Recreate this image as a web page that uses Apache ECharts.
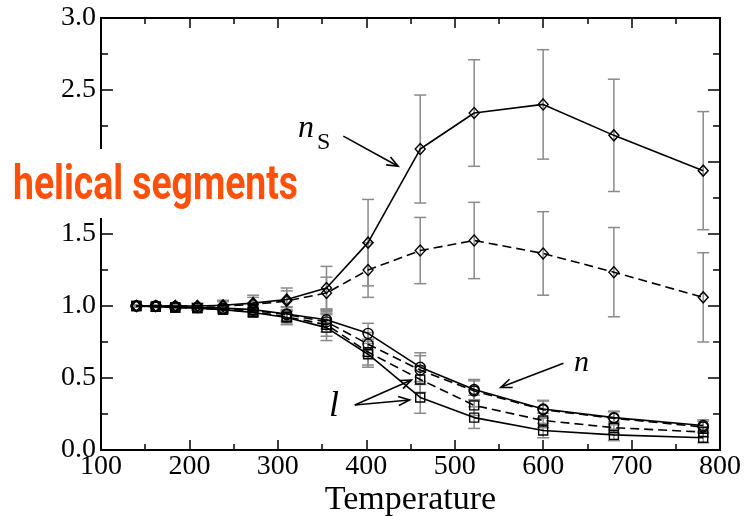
<!DOCTYPE html>
<html>
<head>
<meta charset="utf-8">
<script src="https://cdn.jsdelivr.net/npm/echarts@6/dist/echarts.min.js"></script>
<style>
  html, body { margin: 0; padding: 0; background: #fff; }
  #chart { width: 745px; height: 516px; }
</style>
</head>
<body>
<div id="chart"></div>
<script>
// Simulation temperatures
const temperatures = [140, 162, 184, 209, 238, 272, 310, 355, 402, 461, 522, 600, 680, 781];

// Number of helical segments n_S (solid and dashed runs) with error bars
const nsSolid      = [1.00, 1.00, 1.00, 1.00, 1.005, 1.02, 1.045, 1.125, 1.44, 2.09, 2.34, 2.40, 2.185, 1.94];
const nsSolidErr   = [0.005, 0.005, 0.01, 0.02, 0.035, 0.055, 0.08, 0.15, 0.30, 0.375, 0.37, 0.38, 0.39, 0.41];
const nsDashed     = [1.00, 1.00, 1.00, 1.00, 1.00, 1.01, 1.035, 1.09, 1.25, 1.385, 1.455, 1.365, 1.235, 1.06];
const nsDashedErr  = [0.005, 0.005, 0.01, 0.015, 0.03, 0.05, 0.07, 0.11, 0.19, 0.23, 0.265, 0.29, 0.31, 0.31];

// Helical content n (circles) and helix length l (squares)
const nSolid       = [1.00, 1.00, 0.995, 0.99, 0.985, 0.975, 0.945, 0.905, 0.81, 0.575, 0.42, 0.285, 0.225, 0.17];
const nSolidErr    = [0.005, 0.005, 0.01, 0.015, 0.02, 0.03, 0.05, 0.065, 0.07, 0.10, 0.07, 0.06, 0.045, 0.04];
const nDashed      = [1.00, 1.00, 0.995, 0.99, 0.98, 0.97, 0.94, 0.89, 0.735, 0.555, 0.41, 0.28, 0.22, 0.16];
const nDashedErr   = [0.005, 0.005, 0.01, 0.015, 0.02, 0.03, 0.05, 0.07, 0.08, 0.10, 0.07, 0.06, 0.045, 0.04];
const lDashed      = [1.00, 0.995, 0.99, 0.985, 0.975, 0.96, 0.925, 0.87, 0.68, 0.49, 0.31, 0.205, 0.155, 0.125];
const lDashedErr   = [0.005, 0.005, 0.01, 0.015, 0.02, 0.03, 0.05, 0.08, 0.09, 0.09, 0.07, 0.05, 0.04, 0.035];
const lSolid       = [1.00, 0.995, 0.99, 0.985, 0.975, 0.955, 0.92, 0.85, 0.665, 0.365, 0.225, 0.135, 0.105, 0.085];
const lSolidErr    = [0.005, 0.005, 0.01, 0.015, 0.02, 0.03, 0.05, 0.09, 0.09, 0.11, 0.075, 0.05, 0.04, 0.035];

// Axis ticks
const xTicks = [100, 200, 300, 400, 500, 600, 700, 800];
const yTicks = [0.0, 0.5, 1.0, 1.5, 2.0, 2.5, 3.0];

const SERIF = '"Liberation Serif", "DejaVu Serif", serif';
const ERR_COLOR = '#8a8a8a';

const chart = echarts.init(document.getElementById('chart'), null, { renderer: 'canvas' });

function lineSeries(values, symbol, size, dashed) {
  return {
    type: 'line',
    data: temperatures.map((t, i) => [t, values[i]]),
    symbol: symbol,
    symbolSize: size,
    showAllSymbol: true,
    z: 3,
    lineStyle: { color: '#000', width: 1.6, type: dashed ? [9, 5] : 'solid' },
    itemStyle: { color: 'rgba(255,255,255,0)', borderColor: '#000', borderWidth: 1.4 },
    emphasis: { disabled: true },
    animation: false
  };
}

function errorSeries(values, errs) {
  return {
    type: 'custom',
    silent: true,
    z: 2,
    encode: { x: 0, y: 1 },
    data: temperatures.map((t, i) => [t, values[i], errs[i]]),
    renderItem(params, api) {
      const x = api.value(0), y = api.value(1), e = api.value(2);
      const top = api.coord([x, y + e]);
      const bot = api.coord([x, y - e]);
      const hw = 6;
      const st = { stroke: ERR_COLOR, lineWidth: 1.5 };
      return {
        type: 'group',
        children: [
          { type: 'line', shape: { x1: top[0], y1: top[1], x2: bot[0], y2: bot[1] }, style: st },
          { type: 'line', shape: { x1: top[0] - hw, y1: top[1], x2: top[0] + hw, y2: top[1] }, style: st },
          { type: 'line', shape: { x1: bot[0] - hw, y1: bot[1], x2: bot[0] + hw, y2: bot[1] }, style: st }
        ]
      };
    },
    animation: false
  };
}

const tickStyle = { color: '#000', width: 1.5 };

chart.setOption({
  animation: false,
  backgroundColor: '#fff',
  grid: { left: 101, right: 25, top: 18, bottom: 66, containLabel: false, outerBoundsMode: 'none' },
  xAxis: [
    {
      type: 'value', min: xTicks[0], max: xTicks[xTicks.length - 1], interval: 100,
      name: 'Temperature', nameLocation: 'middle', nameGap: 33, nameMoveOverlap: false,
      nameTextStyle: { fontFamily: SERIF, fontSize: 34, color: '#000', verticalAlign: 'top' },
      axisLine: { show: true, onZero: false, lineStyle: { color: '#000', width: 2 } },
      axisTick: { show: true, inside: true, length: 10, lineStyle: tickStyle },
      minorTick: { show: true, splitNumber: 2, length: 6, lineStyle: tickStyle },
      axisLabel: { fontFamily: SERIF, fontSize: 28, color: '#000', margin: 3 },
      splitLine: { show: false }
    },
    {
      type: 'value', position: 'top', min: xTicks[0], max: xTicks[xTicks.length - 1], interval: 100,
      axisLine: { show: true, onZero: false, lineStyle: { color: '#000', width: 2 } },
      axisTick: { show: true, inside: true, length: 10, lineStyle: tickStyle },
      minorTick: { show: true, splitNumber: 2, length: 6, lineStyle: tickStyle },
      axisLabel: { show: false },
      splitLine: { show: false }
    }
  ],
  yAxis: [
    {
      type: 'value', min: yTicks[0], max: yTicks[yTicks.length - 1], interval: 0.5,
      axisLine: { show: true, onZero: false, lineStyle: { color: '#000', width: 2 } },
      axisTick: { show: true, inside: true, length: 12, lineStyle: tickStyle },
      minorTick: { show: true, splitNumber: 2, length: 7, lineStyle: tickStyle },
      axisLabel: { fontFamily: SERIF, fontSize: 28, color: '#000', margin: 5, formatter: v => v.toFixed(1) },
      splitLine: { show: false }
    },
    {
      type: 'value', position: 'right', min: yTicks[0], max: yTicks[yTicks.length - 1], interval: 0.5,
      axisLine: { show: true, onZero: false, lineStyle: { color: '#000', width: 2 } },
      axisTick: { show: true, inside: true, length: 12, lineStyle: tickStyle },
      minorTick: { show: true, splitNumber: 2, length: 7, lineStyle: tickStyle },
      axisLabel: { show: false },
      splitLine: { show: false }
    }
  ],
  series: [
    errorSeries(nsSolid, nsSolidErr),
    errorSeries(nsDashed, nsDashedErr),
    errorSeries(nSolid, nSolidErr),
    errorSeries(nDashed, nDashedErr),
    errorSeries(lDashed, lDashedErr),
    errorSeries(lSolid, lSolidErr),
    lineSeries(nsSolid, 'diamond', [10, 11], false),
    lineSeries(nsDashed, 'diamond', [10, 11], true),
    lineSeries(nSolid, 'circle', 10, false),
    lineSeries(nDashed, 'circle', 10, true),
    lineSeries(lDashed, 'rect', 9, true),
    lineSeries(lSolid, 'rect', 9, false)
  ]
});

// Annotation arrows, anchored in data space
const toPx = p => chart.convertToPixel({ xAxisIndex: 0, yAxisIndex: 0 }, p);

function arrow(from, to) {
  const a = toPx(from), b = toPx(to);
  const ang = Math.atan2(b[1] - a[1], b[0] - a[0]);
  const len = 12, spread = 0.38;
  const p1 = [b[0] - len * Math.cos(ang - spread), b[1] - len * Math.sin(ang - spread)];
  const p2 = [b[0] - len * Math.cos(ang + spread), b[1] - len * Math.sin(ang + spread)];
  const st = { stroke: '#000', lineWidth: 1.6, fill: null };
  return [
    { type: 'line', z: 50, silent: true, shape: { x1: a[0], y1: a[1], x2: b[0], y2: b[1] }, style: st },
    { type: 'polyline', z: 50, silent: true, shape: { points: [p1, b, p2] }, style: st }
  ];
}

// Orange caption, squeezed horizontally to its measured span
const captionText = 'helical segments';
const captionFont = 'bold 48px Roboto, "DejaVu Sans", sans-serif';
const ctx = document.createElement('canvas').getContext('2d');
ctx.font = captionFont;
const captionWidth = ctx.measureText(captionText).width;
const captionScale = 285 / captionWidth;

chart.setOption({
  graphic: [
    ...arrow([374, 2.18], [436, 1.97]),
    ...arrow([623, 0.602], [552, 0.435]),
    ...arrow([387, 0.3125], [451, 0.486]),
    ...arrow([387, 0.3125], [449, 0.347]),
    { type: 'text', z: 50, silent: true, x: 298, y: 113,
      style: { text: 'n', font: 'italic 32px ' + SERIF, fill: '#000' } },
    { type: 'text', z: 50, silent: true, x: 317, y: 131,
      style: { text: 'S', font: '24px ' + SERIF, fill: '#000' } },
    { type: 'text', z: 50, silent: true, x: 574, y: 348,
      style: { text: 'n', font: 'italic 30px ' + SERIF, fill: '#000' } },
    { type: 'text', z: 50, silent: true, x: 329, y: 389,
      style: { text: 'l', font: 'italic 36px ' + SERIF, fill: '#000' } },
    { type: 'rect', z: 60, silent: true, shape: { x: 0, y: 149, width: 306, height: 69 },
      style: { fill: '#fff' } },
    { type: 'text', z: 61, silent: true, x: 13, y: 163, scaleX: captionScale, scaleY: 1,
      style: { text: captionText, font: captionFont, fill: '#ff500a' } }
  ]
});
</script>
</body>
</html>
